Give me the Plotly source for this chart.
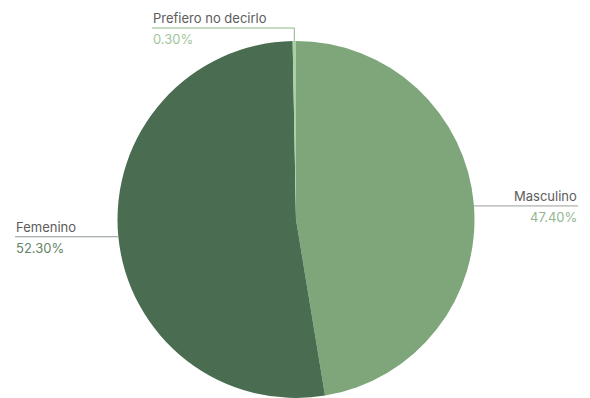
import math
import plotly.graph_objects as go

# Respuestas por género
labels = ["Masculino", "Femenino", "Prefiero no decirlo"]
values = [47.4, 52.3, 0.3]
slice_colors = ["#7fa67b", "#4a6d52", "#a9cfa3"]
pct_colors = ["#94b68f", "#638469", "#9fc69a"]
leader_colors = ["#9a9f9b", "#8f9a92", "#8fb58a"]

W, H = 590, 398
CX, CY, R = 296, 219.5, 178.5


def px(x, y):
    return x / W, 1 - y / H


fig = go.Figure(go.Pie(
    labels=labels,
    values=values,
    sort=False,
    direction="clockwise",
    rotation=0,
    marker=dict(colors=slice_colors, line=dict(width=0)),
    textinfo="none",
    hoverinfo="label+percent",
    showlegend=False,
    domain=dict(x=[(CX - R) / W, (CX + R) / W], y=[0, 2 * R / H]),
))

# mid-angle of every slice (clockwise from 12 o'clock), used for the leader lines
total = sum(values)
mids = []
acc = 0
for v in values:
    mids.append((acc + v / 2) / total * 2 * math.pi)
    acc += v
edge = [(CX + R * math.sin(a), CY - R * math.cos(a)) for a in mids]

shapes = []
annotations = []
FAMILY = "Inter, Roboto, sans-serif"


def seg(p0, p1, color):
    x0, y0 = px(*p0)
    x1, y1 = px(*p1)
    shapes.append(dict(type="line", xref="paper", yref="paper", x0=x0, y0=y0, x1=x1, y1=y1,
                       line=dict(color=color, width=1)))


def add_label(i, x_text, anchor, y_line, elbow=False):
    ex, ey = edge[i]
    if elbow:
        seg((x_text, y_line), (ex, y_line), leader_colors[i])
        seg((ex, y_line), (ex, ey), leader_colors[i])
    else:
        seg((x_text, y_line), (ex, y_line), leader_colors[i])
    tx, ty = px(x_text, y_line - 1)
    annotations.append(dict(x=tx, y=ty, xref="paper", yref="paper", text=labels[i],
                            showarrow=False, xanchor=anchor, yanchor="bottom",
                            font=dict(family=FAMILY, size=13, color="#5c5c5c"), borderpad=0))
    bx, by = px(x_text, y_line + 2)
    annotations.append(dict(x=bx, y=by, xref="paper", yref="paper", text=f"{values[i]:.2f}%",
                            showarrow=False, xanchor=anchor, yanchor="top",
                            font=dict(family=FAMILY, size=13, color=pct_colors[i]), borderpad=0))


add_label(0, 578, "right", edge[0][1] + 1)
add_label(1, 15, "left", edge[1][1] + 1)
add_label(2, 152, "left", 28, elbow=True)

fig.update_layout(
    width=W, height=H,
    margin=dict(l=0, r=0, t=0, b=0),
    paper_bgcolor="white",
    plot_bgcolor="white",
    shapes=shapes,
    annotations=annotations,
)

fig.write_html("out.html")
